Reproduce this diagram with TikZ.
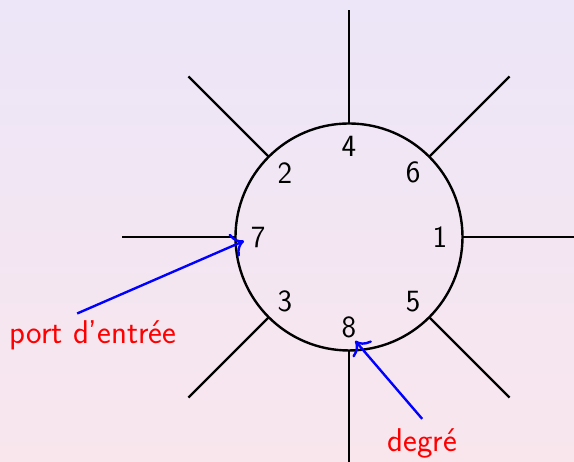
\documentclass[tikz,border=0pt]{standalone}
\usepackage{fontspec}
\usepackage{xcolor}
\usepackage{tikz}
\usetikzlibrary{arrows.meta}

\definecolor{bgtop}{RGB}{236,230,248}
\definecolor{bgbot}{RGB}{249,230,237}

\tikzset{
  portlabel/.style={font=\sffamily\fontsize{15.5}{18}\selectfont},
  notelabel/.style={text=red, font=\sffamily\fontsize{16.5}{20}\selectfont},
  notearrow/.style={-{To[scale=1.4]}, blue, line width=1.2pt},
}

\begin{document}
\begin{tikzpicture}[font=\sffamily]

\useasboundingbox (-6.15,-3.965) rectangle (3.965,4.176);
\shade[top color=bgtop, bottom color=bgbot] (-6.15,-3.965) rectangle (3.965,4.176);
\clip (-6.15,-3.965) rectangle (3.965,4.176);

\draw[line width=1.2pt] (0,0) circle (2);
\foreach \a in {0,45,...,315}
  \draw[line width=1.2pt] (\a:2) -- (\a:4);

\foreach \a/\t in {0/1,45/6,90/4,135/2,180/7,225/3,270/8,315/5}
  \node[portlabel] (n\t) at (\a:1.6) {\t};

\coordinate (entree) at (-1.85,-0.07);
\coordinate (bord) at (0.11,-1.83);
\node[notelabel] (port) at (-4.51,-1.73) {port d'entrée};
\node[notelabel] (degre) at (1.29,-3.63) {degré};
\draw[notearrow] ([xshift=-0.28cm]port.north) -- (entree);
\draw[notearrow] ([yshift=0.04cm]degre.north) -- (bord);
\end{tikzpicture}
\end{document}
